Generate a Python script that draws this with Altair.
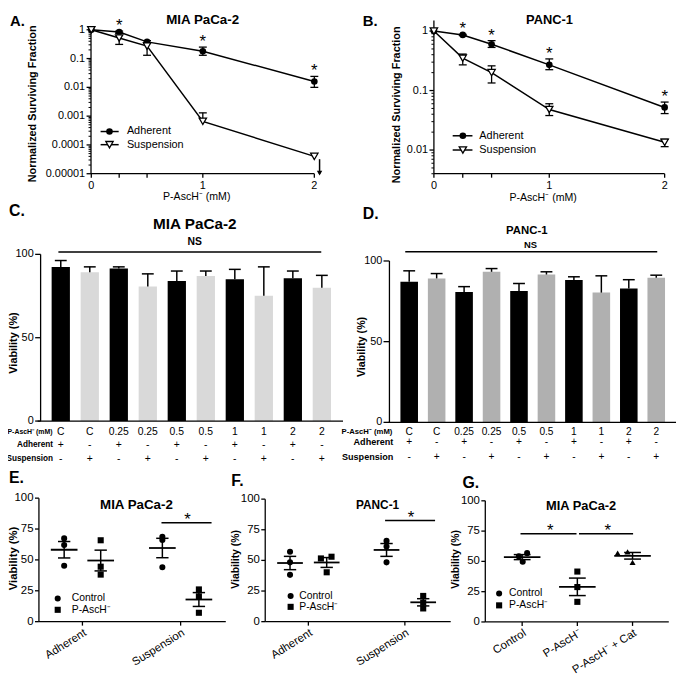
import altair as alt
import pandas as pd

FONT = "Liberation Sans"
W, H = 677, 670
M = 8


def P(v):
    return v - M


ONE = pd.DataFrame({"k": [0]})

# ---------------- data ----------------
dose = [0, 0.25, 0.5, 1, 2]
A_adh = [1, 0.83, 0.38, 0.18, 0.016]
A_adh_lo = [1, 0.78, 0.35, 0.13, 0.010]
A_adh_hi = [1, 0.90, 0.42, 0.25, 0.024]
A_sus = [1, 0.52, 0.27, 0.00066, 0.00004]
A_sus_lo = [1, 0.31, 0.13, 0.00066, 0.00004]
A_sus_hi = [1, 0.75, 0.35, 0.0013, 0.00004]
A_star = [0, 1, 0, 1, 1]

B_adh = [1, 0.86, 0.60, 0.27, 0.052]
B_adh_lo = [1, 0.84, 0.53, 0.224, 0.041]
B_adh_hi = [1, 0.88, 0.69, 0.34, 0.064]
B_sus = [1, 0.35, 0.20, 0.048, 0.0135]
B_sus_lo = [1, 0.27, 0.134, 0.038, 0.0114]
B_sus_hi = [1, 0.41, 0.26, 0.060, 0.0152]
B_star = [0, 1, 1, 1, 1]

dose_ticks = [0, 0.25, 0.5, 1, 2]
dose_labels = ["0", "", "", "1", "2"]
A_ticks = [1e-5, 1e-4, 1e-3, 0.01, 0.1, 1]
A_labels = ["0.00001", "0.0001", "0.001", "0.01", "0.1", "1"]
B_ticks = [0.01, 0.1, 1]
B_labels = ["0.01", "0.1", "1"]

conc = ["C", "C", "0.25", "0.25", "0.5", "0.5", "1", "1", "2", "2"]
adh_row = ["+", "-", "+", "-", "+", "-", "+", "-", "+", "-"]
sus_row = ["-", "+", "-", "+", "-", "+", "-", "+", "-", "+"]
keys = [c + a for c, a in zip(conc, adh_row)]
grp = ["adh" if a == "+" else "sus" for a in adh_row]

C_via = [92.4, 89.3, 91.5, 80.7, 84.0, 87.0, 85.0, 75.1, 85.6, 80.0]
C_hi = [96.3, 92.5, 92.5, 88.3, 90.0, 90.0, 91.0, 92.5, 90.0, 87.4]
D_via = [87.1, 89.2, 80.8, 93.3, 81.4, 91.6, 88.2, 80.4, 82.9, 89.6]
D_hi = [93.9, 92.2, 84.1, 95.3, 86.1, 93.3, 90.2, 90.8, 88.4, 91.2]
bar_ticks = [0, 50, 100]

E_adh_ctrl = [67.4, 62.0, 45.3]
E_adh_pasc = [65.9, 44.5, 38.1]
E_sus_ctrl = [68.8, 66.1, 44.0]
E_sus_pasc = [26.1, 20.5, 7.2]

F_adh_ctrl = [57.0, 48.4, 38.2]
F_adh_pasc = [51.6, 53.0, 40.3]
F_adh_pasc_jit = [-0.06, 0.05, 0.0]
F_sus_ctrl = [65.9, 61.3, 48.4]
F_sus_pasc = [21.0, 15.6, 10.8]

G_ctrl = [56.8, 54.1, 49.7]
G_ctrl_jit = [0.09, -0.06, 0.01]
G_pasc = [41.6, 28.8, 16.6]
G_cat = [56.8, 57.9, 49.2]
G_cat_jit = [-0.27, -0.09, 0.0]

via_ticks = [0, 25, 50, 75, 100]
EF_groups = ["Adherent", "Suspension"]
G_groups = ["Control", "P-AscH⁻", "P-AscH⁻ + Cat"]


# ---------------- helpers ----------------
def T(s, x, y, size=11, bold=False, angle=None, align="center", baseline="middle"):
    kw = dict(text=s, font=FONT, fontSize=size, fontWeight="bold" if bold else "normal",
              align=align, baseline=baseline, color="black")
    if angle is not None:
        kw["angle"] = angle
    return alt.Chart(ONE).mark_text(**kw).encode(x=alt.value(P(x)), y=alt.value(P(y)))


def hline(x1, x2, y, w=1.5):
    return alt.Chart(ONE).mark_rule(color="black", strokeWidth=w).encode(
        x=alt.value(P(x1)), x2=alt.value(P(x2)), y=alt.value(P(y)))


def vline(x, y1, y2, w=1.5):
    return alt.Chart(ONE).mark_rule(color="black", strokeWidth=w).encode(
        x=alt.value(P(x)), y=alt.value(P(y1)), y2=alt.value(P(y2)))


def pt(x, y, shape, size=45, hollow=False):
    if hollow:
        m = alt.Chart(ONE).mark_point(shape=shape, filled=True, fill="white", stroke="black",
                                      strokeWidth=1.3, size=size, opacity=1)
    else:
        m = alt.Chart(ONE).mark_point(shape=shape, filled=True, color="black", size=size, opacity=1)
    return m.encode(x=alt.value(P(x)), y=alt.value(P(y)))


def left_axis(ax, top, bot, ys, vals, labs, tick=4.5, pad=1.5, fs=11, minor=None):
    out = [vline(ax, top, bot, 1.3)]
    df = pd.DataFrame({"v": vals, "lab": labs})
    Y = alt.Y("v:Q", scale=ys, axis=None)
    out.append(alt.Chart(df).mark_rule(color="black", strokeWidth=1.3).encode(
        x=alt.value(P(ax) - tick), x2=alt.value(P(ax)), y=Y))
    out.append(alt.Chart(df).mark_text(font=FONT, fontSize=fs, align="right", baseline="middle",
                                       color="black").encode(
        x=alt.value(P(ax) - tick - pad), y=Y, text="lab:N"))
    if minor:
        out.append(alt.Chart(pd.DataFrame({"v": minor})).mark_rule(color="black", strokeWidth=1).encode(
            x=alt.value(P(ax) - 2.5), x2=alt.value(P(ax)), y=Y))
    return out


def bottom_axis(ay, left, right, xs, vals, labs, tick=4, pad=2, fs=11, angle=None):
    out = [hline(left, right, ay, 1.3)]
    df = pd.DataFrame({"v": vals, "lab": labs})
    X = alt.X("v:Q", scale=xs, axis=None)
    out.append(alt.Chart(df).mark_rule(color="black", strokeWidth=1.3).encode(
        x=X, y=alt.value(P(ay)), y2=alt.value(P(ay) + tick)))
    if angle is None:
        mk = dict(font=FONT, fontSize=fs, align="center", baseline="top", color="black")
    else:
        mk = dict(font=FONT, fontSize=fs, align="right", baseline="top", angle=angle, color="black")
    out.append(alt.Chart(df).mark_text(**mk).encode(
        x=X, y=alt.value(P(ay) + tick + pad), text="lab:N"))
    return out


# ---------------- survival panels ----------------
def surv_panel(adh, adh_lo, adh_hi, sus, sus_lo, sus_hi, star, xs, ys, axes):
    n = len(dose)
    df = pd.DataFrame({"dose": dose + dose, "v": adh + sus, "lo": adh_lo + sus_lo,
                       "hi": adh_hi + sus_hi, "s": ["adh"] * n + ["sus"] * n,
                       "star": star + [0] * n})
    X = alt.X("dose:Q", scale=xs, axis=None)
    base = alt.Chart(df)
    line = base.mark_line(color="black", strokeWidth=1.5).encode(
        x=X, y=alt.Y("v:Q", scale=ys, axis=None), detail="s:N")
    err = base.transform_filter("datum.hi > datum.lo").mark_rule(color="black", strokeWidth=1.3).encode(
        x=X, y=alt.Y("lo:Q", scale=ys, axis=None), y2="hi:Q")
    cap_hi = base.transform_filter("datum.hi > datum.v").mark_tick(
        orient="horizontal", size=8, thickness=1.3, color="black", opacity=1).encode(
        x=X, y=alt.Y("hi:Q", scale=ys, axis=None))
    cap_lo = base.transform_filter("datum.lo < datum.v").mark_tick(
        orient="horizontal", size=8, thickness=1.3, color="black", opacity=1).encode(
        x=X, y=alt.Y("lo:Q", scale=ys, axis=None))
    p_adh = base.transform_filter("datum.s == 'adh'").mark_point(
        shape="circle", filled=True, color="black", size=45, opacity=1).encode(
        x=X, y=alt.Y("v:Q", scale=ys, axis=None))
    p_sus = base.transform_filter("datum.s == 'sus'").mark_point(
        shape="triangle-down", filled=True, fill="white", stroke="black", strokeWidth=1.3,
        size=55, opacity=1).encode(x=X, y=alt.Y("v:Q", scale=ys, axis=None))
    stars = base.transform_filter("datum.star == 1").mark_text(
        text="*", font=FONT, fontSize=17, baseline="alphabetic", dy=0, color="black").encode(
        x=X, y=alt.Y("hi:Q", scale=ys, axis=None))
    return alt.layer(*axes, line, err, cap_hi, cap_lo, p_adh, p_sus, stars)


A_x = alt.Scale(domain=[0, 2], range=[P(92.3), P(318)], nice=False, zero=False)
A_y = alt.Scale(type="log", domain=[1e-5, 1.27], range=[P(171.7), P(23)], nice=False)
A_minor = [k * 10.0 ** e for e in range(-5, 0) for k in range(2, 10)]
A_axes = (left_axis(92, 23, 171.7, A_y, A_ticks, A_labels, minor=A_minor)
          + bottom_axis(171.7, 92, 318, A_x, dose_ticks, dose_labels, tick=4, pad=2))
panelA = surv_panel(A_adh, A_adh_lo, A_adh_hi, A_sus, A_sus_lo, A_sus_hi, A_star, A_x, A_y, A_axes)

B_x = alt.Scale(domain=[0, 2], range=[P(439), P(672.5)], nice=False, zero=False)
B_y = alt.Scale(type="log", domain=[0.004, 1.5], range=[P(171.7), P(16.7)], nice=False)
B_minor = [k * 10.0 ** e for e in (-3, -2, -1) for k in range(2, 10) if k * 10.0 ** e >= 0.004]
B_axes = (left_axis(439, 16.7, 171.7, B_y, B_ticks, B_labels, minor=B_minor)
          + bottom_axis(171.7, 439, 672.5, B_x, dose_ticks, dose_labels, tick=4, pad=2))
panelB = surv_panel(B_adh, B_adh_lo, B_adh_hi, B_sus, B_sus_lo, B_sus_hi, B_star, B_x, B_y, B_axes)


# ---------------- bar panels ----------------
def bar_panel(vals, his, gray, xs, ys, axes, row_ys, tsize):
    df = pd.DataFrame({"key": keys, "conc": conc, "adh": adh_row, "sus": sus_row,
                       "v": vals, "hi": his, "g": grp})
    X = alt.X("key:N", scale=xs, axis=None)
    base = alt.Chart(df)
    b_a = base.transform_filter("datum.g == 'adh'").mark_bar(color="black").encode(
        x=X, y=alt.Y("v:Q", scale=ys, axis=None))
    b_s = base.transform_filter("datum.g == 'sus'").mark_bar(color=gray).encode(
        x=X, y=alt.Y("v:Q", scale=ys, axis=None))
    err = base.mark_rule(color="black", strokeWidth=1.5).encode(
        x=X, y=alt.Y("v:Q", scale=ys, axis=None), y2="hi:Q")
    cap = base.mark_tick(orient="horizontal", size=12, thickness=1.5, color="black", opacity=1).encode(
        x=X, y=alt.Y("hi:Q", scale=ys, axis=None))
    rows = []
    for field, ry in zip(["conc", "adh", "sus"], row_ys):
        rows.append(base.mark_text(font=FONT, fontSize=tsize, color="black").encode(
            x=X, y=alt.value(P(ry)), text=f"{field}:N"))
    return alt.layer(b_a, b_s, err, cap, *axes, *rows)


C_x = alt.Scale(domain=keys, range=[P(41), P(346)], paddingInner=0.37, paddingOuter=0.38)
C_y = alt.Scale(domain=[0, 100], range=[P(422), P(253.3)], nice=False, zero=False)
C_axes = left_axis(41, 253.3, 422, C_y, bar_ticks, [str(t) for t in bar_ticks], tick=5.5, pad=1.5) + [
    hline(38, 347, 422, 1.3)]
panelC = bar_panel(C_via, C_hi, "#d9d9d9", C_x, C_y, C_axes, [432.7, 446.7, 460.7], 10.5)

D_x = alt.Scale(domain=keys, range=[P(394), P(684)], paddingInner=0.36, paddingOuter=0.4)
D_y = alt.Scale(domain=[0, 100], range=[P(423.3), P(260)], nice=False, zero=False)
D_axes = left_axis(394, 260, 423.3, D_y, bar_ticks, [str(t) for t in bar_ticks], tick=6, pad=1.2) + [
    hline(393, 684, 423.3, 1.3)]
panelD = bar_panel(D_via, D_hi, "#b0b0b0", D_x, D_y, D_axes, [432.7, 443.7, 458.7], 10.3)


# ---------------- dot panels ----------------
def dot_panel(groups, xs, ys, axes, mean_w, cap_w, sig, stars):
    rows = []
    for cx, shape, vals, jit in groups:
        for v, j in zip(vals, jit):
            rows.append({"cx": cx, "x": cx + j, "v": v, "shape": shape})
    df = pd.DataFrame(rows)
    base = alt.Chart(df)
    agg = base.transform_aggregate(m="mean(v)", se="stderr(v)", groupby=["cx"]).transform_calculate(
        lo="datum.m - datum.se", hi="datum.m + datum.se")
    CX = alt.X("cx:Q", scale=xs, axis=None)
    mean = agg.mark_tick(orient="horizontal", size=mean_w, thickness=1.8, color="black", opacity=1).encode(
        x=CX, y=alt.Y("m:Q", scale=ys, axis=None))
    sem = agg.mark_rule(color="black", strokeWidth=1.5).encode(
        x=CX, y=alt.Y("lo:Q", scale=ys, axis=None), y2="hi:Q")
    caps = agg.transform_fold(["lo", "hi"], as_=["kk", "vv"]).mark_tick(
        orient="horizontal", size=cap_w, thickness=1.5, color="black", opacity=1).encode(
        x=CX, y=alt.Y("vv:Q", scale=ys, axis=None))
    layers = list(axes) + [mean, sem, caps]
    for shape in df["shape"].unique():
        layers.append(base.transform_filter(f"datum.shape == '{shape}'").mark_point(
            shape=shape, filled=True, color="black", size=38, opacity=1).encode(
            x=alt.X("x:Q", scale=xs, axis=None), y=alt.Y("v:Q", scale=ys, axis=None)))
    for x1, x2, yv in sig:
        layers.append(alt.Chart(ONE).mark_rule(color="black", strokeWidth=1.5).encode(
            x=alt.X(datum=x1, type="quantitative", scale=xs, axis=None),
            x2=alt.X2(datum=x2), y=alt.Y(datum=yv, type="quantitative", scale=ys, axis=None)))
    for sx, sy in stars:
        layers.append(alt.Chart(ONE).mark_text(
            text="*", font=FONT, fontSize=17, baseline="alphabetic", dy=2, color="black").encode(
            x=alt.X(datum=sx, type="quantitative", scale=xs, axis=None),
            y=alt.Y(datum=sy, type="quantitative", scale=ys, axis=None)))
    return alt.layer(*layers)


Z3 = [0, 0, 0]
via_labels = [str(t) for t in via_ticks]

E_x = alt.Scale(domain=[0.557, 2.46], range=[P(39.3), P(228.4)], nice=False, zero=False)
E_y = alt.Scale(domain=[0, 100], range=[P(625), P(500)], nice=False, zero=False)
E_axes = (left_axis(39.3, 500, 625, E_y, via_ticks, via_labels, tick=4, pad=1.5, fs=11.5)
          + bottom_axis(625, 39.3, 228.4, E_x, [1, 2], EF_groups, tick=4, pad=1.5, fs=11.5, angle=328))
panelE = dot_panel([(1 - 0.186, "circle", E_adh_ctrl, Z3), (1 + 0.186, "square", E_adh_pasc, Z3),
                    (2 - 0.186, "circle", E_sus_ctrl, Z3), (2 + 0.186, "square", E_sus_pasc, Z3)],
                   E_x, E_y, E_axes, 27, 12.5, [(1.805, 2.315, 80)], [(2.07, 80)])

F_x = alt.Scale(domain=[0.553, 2.475], range=[P(268.3), P(456)], nice=False, zero=False)
F_y = alt.Scale(domain=[0, 100], range=[P(625), P(501)], nice=False, zero=False)
F_axes = (left_axis(268.3, 501, 625, F_y, via_ticks, via_labels, tick=4, pad=1.5, fs=11.5)
          + bottom_axis(625, 268.3, 456, F_x, [1, 2], EF_groups, tick=4, pad=1.5, fs=11.5, angle=328))
panelF = dot_panel([(1 - 0.19, "circle", F_adh_ctrl, Z3), (1 + 0.19, "square", F_adh_pasc, F_adh_pasc_jit),
                    (2 - 0.19, "circle", F_sus_ctrl, Z3), (2 + 0.19, "square", F_sus_pasc, Z3)],
                   F_x, F_y, F_axes, 26, 12.5, [(1.795, 2.313, 82.5)], [(2.064, 82.5)])

G_x = alt.Scale(domain=[0.332, 3.657], range=[P(491), P(676.7)], nice=False, zero=False)
G_y = alt.Scale(domain=[0, 100], range=[P(625.3), P(502.7)], nice=False, zero=False)
G_axes = (left_axis(491, 502.7, 625.3, G_y, via_ticks, via_labels, tick=4, pad=1.5, fs=11.5)
          + bottom_axis(625.3, 491, 676.7, G_x, [1, 2, 3], G_groups, tick=4, pad=1.5, fs=11.5, angle=328))
panelG = dot_panel([(1, "circle", G_ctrl, G_ctrl_jit), (2, "square", G_pasc, Z3),
                    (3, "triangle-up", G_cat, G_cat_jit)],
                   G_x, G_y, G_axes, 37, 17,
                   [(0.97, 1.985, 72.8), (2.03, 3.01, 72.8)], [(1.51, 72.8), (2.55, 72.8)])

# ---------------- annotations ----------------
ann = [
    # panel letters
    T("A.", 10, 17, 15, True, align="left"), T("B.", 367, 17, 15, True, align="left"),
    T("C.", 9, 209, 16, True, align="left"), T("D.", 367, 213, 16, True, align="left"),
    T("E.", 9, 480, 16, True, align="left"), T("F.", 234, 483, 16, True, align="left"),
    T("G.", 468, 485, 16, True, align="left"),
    # titles
    T("MIA PaCa-2", 205, 16, 13.5, True), T("PANC-1", 556, 16, 13, True),
    T("MIA PaCa-2", 197, 223, 15.5, True), T("PANC-1", 533, 230, 11.5, True),
    T("MIA PaCa-2", 138, 507, 13.5, True), T("PANC-1", 382, 507, 12, True),
    T("MIA PaCa-2", 588, 508, 13, True),
    # axis titles
    T("Normalized Surviving Fraction", 33, 101, 11, True, angle=270),
    T("Normalized Surviving Fraction", 402, 102, 11, True, angle=270),
    T("P-AscH⁻ (mM)", 199, 195, 10.7), T("P-AscH⁻ (mM)", 549.5, 196, 10.7),
    T("Viability (%)", 14, 343, 11, True, angle=270),
    T("Viability (%)", 366.7, 347, 10.8, True, angle=270),
    T("Viability (%)", 14, 561, 11.4, True, angle=270),
    T("Viability (%)", 238.3, 562, 10.5, True, angle=270),
    T("Viability (%)", 461.7, 562, 10.5, True, angle=270),
    # NS bars
    hline(59, 325, 251), T("NS", 197, 241, 10.5, True),
    hline(410, 665, 250.7), T("NS", 536.7, 244, 9.5, True),
    # table row labels
    T("P-AscH⁻ (mM)", 53, 432.7, 7.0, True, align="right"),
    T("Adherent", 53.5, 446.7, 8.3, True, align="right"),
    T("Suspension", 53.5, 460.7, 8.3, True, align="right"),
    T("P-AscH⁻ (mM)", 397, 432.7, 7.8, True, align="right"),
    T("Adherent", 398, 443.7, 9.2, True, align="right"),
    T("Suspension", 398, 458.7, 9.2, True, align="right"),
    # legends A/B
    hline(101.7, 120, 129), pt(110.7, 129, "circle", 45), T("Adherent", 128.3, 129, 11, align="left"),
    hline(101.7, 120, 142.3), pt(110.7, 142.3, "triangle-down", 55, hollow=True),
    T("Suspension", 128.3, 142.3, 11, align="left"),
    hline(458, 478, 133.3), pt(468.3, 133.3, "circle", 45), T("Adherent", 485, 133.3, 11, align="left"),
    hline(458, 478, 147.7), pt(468.3, 147.7, "triangle-down", 55, hollow=True),
    T("Suspension", 485, 147.7, 11, align="left"),
    # arrow in A
    vline(323.3, 157, 172, 1.5), pt(323.3, 171, "triangle-down", 30),
    # legends E/F/G
    pt(58.3, 601.5, "circle", 38), T("Control", 72.5, 601.5, 10.5, align="left"),
    pt(58.3, 613, "square", 38), T("P-AscH⁻", 72.5, 613, 10.5, align="left"),
    pt(294, 599, "circle", 38), T("Control", 302.7, 599, 10.5, align="left"),
    pt(294, 610, "square", 38), T("P-AscH⁻", 302.7, 610, 10.5, align="left"),
    pt(505, 596.5, "circle", 38), T("Control", 515, 596.5, 10.5, align="left"),
    pt(505, 608.5, "square", 38), T("P-AscH⁻", 515, 608.5, 10.5, align="left"),
]

chart = alt.layer(panelA, panelB, panelC, panelD, panelE, panelF, panelG, *ann).resolve_scale(
    x="independent", y="independent"
).properties(
    width=W, height=H, autosize=alt.AutoSizeParams(type="none"), padding=0
).configure_view(stroke=None)

chart.save("out.html", embed_options={"renderer": "svg", "actions": False})
